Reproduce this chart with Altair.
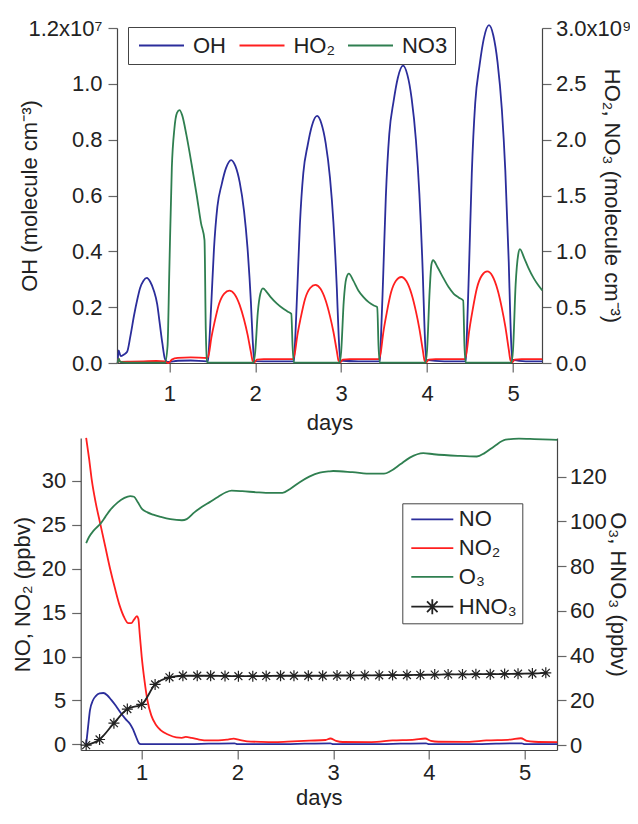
import altair as alt
import pandas as pd

FONT = "Liberation Sans"
BLUE = "#2b2d9b"
RED = "#ff1f1f"
GREEN = "#2f7f50"
BLACK = "#222222"

# ---------------- top panel (OH left axis in 1e7, HO2/NO3 right axis in 1e9) ----
oh_days = [0.40, 0.41, 0.435, 0.47, 0.51, 0.55, 0.59, 0.63, 0.66, 0.70, 0.74, 0.78, 0.82, 0.86, 0.89, 0.92, 0.95, 0.98,
           1.10, 1.25, 1.44,
           1.45, 1.46, 1.49, 1.52, 1.56, 1.61, 1.66, 1.72, 1.77, 1.82, 1.87, 1.91, 1.95, 1.97, 1.99, 2.2, 2.44,
           2.45, 2.46, 2.49, 2.52, 2.56, 2.61, 2.66, 2.72, 2.77, 2.82, 2.87, 2.91, 2.95, 2.97, 2.99, 3.2, 3.44,
           3.45, 3.46, 3.49, 3.52, 3.56, 3.61, 3.66, 3.72, 3.77, 3.82, 3.87, 3.91, 3.95, 3.97, 3.99, 4.2, 4.44,
           4.45, 4.46, 4.49, 4.52, 4.56, 4.61, 4.66, 4.72, 4.77, 4.82, 4.87, 4.91, 4.95, 4.97, 4.99, 5.15, 5.34]
oh_vals = [0.0, 0.045, 0.025, 0.03, 0.04, 0.10, 0.17, 0.23, 0.268, 0.295, 0.305, 0.29, 0.26, 0.21, 0.14, 0.07, 0.015, 0.004,
           0.008, 0.009, 0.006,
           0.006, 0.044, 0.218, 0.407, 0.560, 0.640, 0.698, 0.727, 0.705, 0.647, 0.545, 0.414, 0.218, 0.087, 0.007, 0.006, 0.006,
           0.006, 0.053, 0.266, 0.496, 0.681, 0.779, 0.850, 0.885, 0.858, 0.788, 0.664, 0.504, 0.266, 0.106, 0.009, 0.006, 0.006,
           0.006, 0.064, 0.320, 0.596, 0.820, 0.937, 1.022, 1.065, 1.033, 0.948, 0.799, 0.607, 0.320, 0.128, 0.011, 0.006, 0.006,
           0.006, 0.073, 0.363, 0.678, 0.932, 1.065, 1.162, 1.210, 1.174, 1.077, 0.908, 0.690, 0.363, 0.145, 0.012, 0.006, 0.006]

ho2_days = [0.40, 0.41, 0.43, 0.55, 0.70, 0.85, 0.95, 0.99, 1.03, 1.10, 1.25, 1.44,
            1.46, 1.49, 1.53, 1.58, 1.64, 1.70, 1.76, 1.82, 1.87, 1.91, 1.95, 1.97, 1.99, 2.02, 2.10, 2.30, 2.44,
            2.46, 2.49, 2.53, 2.58, 2.64, 2.70, 2.76, 2.82, 2.87, 2.91, 2.95, 2.97, 2.99, 3.02, 3.10, 3.30, 3.44,
            3.46, 3.49, 3.53, 3.58, 3.64, 3.70, 3.76, 3.82, 3.87, 3.91, 3.95, 3.97, 3.99, 4.02, 4.10, 4.30, 4.44,
            4.46, 4.49, 4.53, 4.58, 4.64, 4.70, 4.76, 4.82, 4.87, 4.91, 4.95, 4.97, 4.99, 5.02, 5.10, 5.34]
ho2_vals = [0.0, 0.04, 0.01, 0.012, 0.015, 0.018, 0.015, 0.0, 0.03, 0.045, 0.05, 0.045,
            0.078, 0.227, 0.376, 0.531, 0.622, 0.648, 0.616, 0.518, 0.389, 0.259, 0.097, 0.02, 0.005, 0.03, 0.035, 0.035, 0.035,
            0.084, 0.245, 0.406, 0.574, 0.672, 0.700, 0.665, 0.560, 0.420, 0.280, 0.105, 0.021, 0.005, 0.03, 0.035, 0.035, 0.035,
            0.092, 0.270, 0.447, 0.631, 0.739, 0.770, 0.732, 0.616, 0.462, 0.308, 0.116, 0.023, 0.005, 0.03, 0.035, 0.035, 0.035,
            0.098, 0.287, 0.476, 0.672, 0.787, 0.820, 0.779, 0.656, 0.492, 0.328, 0.123, 0.025, 0.005, 0.03, 0.035, 0.035]

no3_days = [0.40, 0.41, 0.43, 0.50, 0.95, 0.98, 1.00, 1.03, 1.06, 1.09, 1.12, 1.15, 1.20, 1.26, 1.32, 1.37, 1.41, 1.425, 1.44,
            1.46, 1.98, 2.00, 2.03, 2.06, 2.09, 2.13, 2.18, 2.25, 2.32, 2.38, 2.42, 2.435, 2.45,
            2.98, 3.00, 3.03, 3.06, 3.09, 3.14, 3.20, 3.26, 3.32, 3.38, 3.42, 3.435, 3.45,
            3.98, 4.00, 4.03, 4.05, 4.07, 4.12, 4.19, 4.25, 4.31, 4.37, 4.42, 4.435, 4.45,
            4.98, 5.00, 5.03, 5.06, 5.08, 5.13, 5.18, 5.24, 5.29, 5.34]
no3_vals = [0.0, 0.04, 0.01, 0.003, 0.003, 0.15, 0.80, 1.75, 2.10, 2.24, 2.265, 2.22, 2.04, 1.78, 1.50, 1.25, 1.10, 0.30, 0.01,
            0.003, 0.003, 0.10, 0.45, 0.62, 0.668, 0.64, 0.59, 0.534, 0.49, 0.46, 0.44, 0.15, 0.003,
            0.003, 0.10, 0.55, 0.76, 0.80, 0.74, 0.65, 0.59, 0.545, 0.515, 0.50, 0.15, 0.003,
            0.003, 0.12, 0.65, 0.88, 0.92, 0.86, 0.76, 0.68, 0.62, 0.585, 0.56, 0.15, 0.003,
            0.003, 0.12, 0.70, 0.97, 1.02, 0.94, 0.85, 0.76, 0.70, 0.65]

top_names = ["OH", "HO₂", "NO3"]
top_colors = [BLUE, RED, GREEN]

# ---------------- bottom panel (NO/NO2 left axis, O3/HNO3 right axis, ppbv) ----
no_days = [0.42, 0.44, 0.46, 0.49, 0.52, 0.56, 0.60, 0.64, 0.68, 0.73, 0.78, 0.83, 0.88, 0.91, 0.94, 0.97, 0.99,
           1.5, 1.7, 1.97, 2.0, 2.5, 2.7, 2.97, 3.0, 3.5, 3.7, 3.97, 4.0, 4.5, 4.7, 4.97, 5.0, 5.34]
no_vals = [0.0, 2.0, 3.9, 5.0, 5.5, 5.8, 5.85, 5.6, 5.1, 4.4, 3.6, 2.9, 2.3, 1.7, 0.9, 0.15, 0.02,
           0.03, 0.08, 0.12, 0.02, 0.03, 0.08, 0.12, 0.02, 0.03, 0.08, 0.12, 0.02, 0.03, 0.08, 0.12, 0.02, 0.03]

no2_days = [0.42, 0.45, 0.48, 0.52, 0.57, 0.62, 0.67, 0.72, 0.77, 0.82, 0.86, 0.89, 0.92, 0.95, 0.965, 0.98, 1.00, 1.03,
            1.06, 1.10, 1.15, 1.20, 1.28, 1.36, 1.42, 1.46, 1.52, 1.60, 1.70, 1.80, 1.90, 1.96, 2.02, 2.10, 2.25, 2.40,
            2.58, 2.75, 2.92, 2.97, 3.03, 3.10, 3.40, 3.62, 3.85, 3.96, 4.02, 4.10, 4.40, 4.60, 4.85, 4.96, 5.02, 5.10, 5.34]
no2_vals = [34.9, 32.6, 30.0, 27.5, 25.0, 22.5, 20.0, 17.8, 15.8, 14.4, 13.8, 13.8, 14.2, 14.6, 14.3, 12.5, 10.0, 7.2,
            5.0, 3.3, 2.2, 1.6, 1.1, 0.8, 0.75, 0.85, 0.75, 0.55, 0.45, 0.45, 0.55, 0.65, 0.5, 0.35, 0.28, 0.26,
            0.34, 0.42, 0.5, 0.67, 0.4, 0.27, 0.26, 0.45, 0.55, 0.67, 0.4, 0.3, 0.28, 0.45, 0.55, 0.7, 0.4, 0.3, 0.25]

o3_days = [0.42, 0.45, 0.50, 0.57, 0.62, 0.67, 0.75, 0.82, 0.88, 0.92, 0.96, 1.00, 1.06, 1.12, 1.20, 1.30, 1.42, 1.47,
           1.55, 1.63, 1.71, 1.80, 1.88, 1.94, 2.05, 2.20, 2.35, 2.47, 2.55, 2.65, 2.75, 2.86, 2.95, 3.00, 3.20, 3.40,
           3.53, 3.60, 3.70, 3.80, 3.94, 4.05, 4.30, 4.50, 4.58, 4.68, 4.80, 4.94, 5.10, 5.34]
o3_vals = [90.3, 93.0, 96.0, 99.0, 102.0, 105.0, 108.5, 110.5, 111.3, 111.0, 108.5, 105.7, 104.0, 103.0, 102.0, 101.0, 100.5, 101.0,
           104.0, 106.5, 108.6, 111.0, 113.0, 113.7, 113.5, 113.0, 112.7, 112.7, 114.5, 117.5, 120.0, 121.8, 122.3, 122.5, 122.0, 121.3,
           121.3, 122.5, 125.5, 128.5, 130.5, 130.0, 129.3, 129.0, 130.5, 133.5, 136.5, 137.0, 136.8, 136.4]

hno3_days = [0.42, 0.56, 0.71, 0.85, 1.00, 1.14, 1.29, 1.43, 1.58, 1.72, 1.87, 2.01, 2.16, 2.30, 2.45, 2.59, 2.74,
             2.89, 3.04, 3.18, 3.33, 3.48, 3.62, 3.77, 3.91, 4.06, 4.20, 4.35, 4.49, 4.64, 4.79, 4.93, 5.08, 5.22]
hno3_vals = [0.0, 2.5, 9.8, 16.1, 18.2, 27.1, 30.3, 31.0, 31.0, 31.0, 30.9, 30.8, 30.8, 30.9, 31.0, 31.0, 31.0,
             31.0, 31.1, 31.1, 31.2, 31.2, 31.3, 31.3, 31.4, 31.5, 31.6, 31.6, 31.7, 31.7, 31.8, 31.9, 32.0, 32.3]

bot_names = ["NO", "NO₂", "O₃", "HNO₃"]
bot_colors = [BLUE, RED, GREEN, BLACK]


def frame(days, vals, name):
    return pd.DataFrame({"day": days, "val": vals, "series": name})


top_df = pd.concat([frame(oh_days, oh_vals, "OH"),
                    frame(ho2_days, ho2_vals, "HO₂"),
                    frame(no3_days, no3_vals, "NO3")], ignore_index=True)
bot_df = pd.concat([frame(no_days, no_vals, "NO"),
                    frame(no2_days, no2_vals, "NO₂"),
                    frame(o3_days, o3_vals, "O₃"),
                    frame(hno3_days, hno3_vals, "HNO₃")], ignore_index=True)

LINE_SYM = "M-1,0H5"
HNO3_SYM = "M-1,0H5M2,-1.07V1.07M1.25,-0.76L2.75,0.76M1.25,0.76L2.75,-0.76"
STAR = "M0,-1V1M-1,0H1M-0.72,-0.72L0.72,0.72M-0.72,0.72L0.72,-0.72"

# one view spanning both panels; each panel uses its own pixel ranges
VIEW_W = 476.3
VIEW_H = 722
TOP_X_RANGE = [36.3, 461.3]
TOP_Y_RANGE = [335, 0]
BOT_X_RANGE = [0, VIEW_W]
BOT_Y_RANGE = [VIEW_H, 410]

# ---------------- top panel ----------------
x_top = alt.X("day:Q", scale=alt.Scale(domain=[0.392, 5.337], range=TOP_X_RANGE, nice=False, zero=False),
              axis=alt.Axis(orient="bottom", offset=-(VIEW_H - 335), values=[1, 2, 3, 4, 5], format="d",
                            title="days", labelPadding=11, titleY=66, titleBaseline="alphabetic"))
color_top = alt.Color("series:N", title=None,
                      scale=alt.Scale(domain=top_names, range=top_colors),
                      legend=alt.Legend(orient="none", legendX=47.3, legendY=-1, direction="horizontal",
                                        strokeColor="#444", padding=7.5, symbolType=LINE_SYM,
                                        symbolSize=225, symbolStrokeWidth=1.8, labelOffset=35.4,
                                        columnPadding=8.5, labelFont=FONT, labelFontSize=22,
                                        labelColor="#222"))

top_base = alt.Chart(top_df).mark_line(strokeWidth=1.8, interpolate="monotone")

oh_layer = top_base.transform_filter("datum.series == 'OH'").encode(
    x=x_top,
    y=alt.Y("val:Q", scale=alt.Scale(domain=[0, 1.2], range=TOP_Y_RANGE, nice=False, zero=False),
            axis=alt.Axis(orient="left", offset=-TOP_X_RANGE[0], values=[0, 0.2, 0.4, 0.6, 0.8, 1.0, 1.2],
                          labelExpr="datum.value > 1.1 ? '1.2x10⁷' : format(datum.value, '.1f')",
                          title="OH (molecule cm⁻³)", titleX=-87.4, titleAngle=-90,
                          titleBaseline="middle", labelPadding=6)),
    color=color_top)

rt_layer = top_base.transform_filter("datum.series != 'OH'").encode(
    x=x_top,
    y=alt.Y("val:Q", scale=alt.Scale(domain=[0, 3.0], range=TOP_Y_RANGE, nice=False, zero=False),
            axis=alt.Axis(orient="right", offset=-(VIEW_W - TOP_X_RANGE[1]),
                          values=[0, 0.5, 1.0, 1.5, 2.0, 2.5, 3.0],
                          labelExpr="datum.value > 2.9 ? '3.0x10⁹' : format(datum.value, '.1f')",
                          title="HO₂, NO₃ (molecule cm⁻³)", titleX=69.7, titleAngle=90,
                          titleBaseline="middle", labelPadding=4.5)),
    color=color_top)

top_layer = alt.layer(oh_layer, rt_layer).resolve_scale(y="independent")

# ---------------- bottom panel ----------------
x_bot = alt.X("day:Q", scale=alt.Scale(domain=[0.363, 5.337], range=BOT_X_RANGE, nice=False, zero=False),
              axis=alt.Axis(orient="bottom", values=[1, 2, 3, 4, 5], format="d", title="days",
                            labelPadding=3, titleY=54, titleBaseline="alphabetic"))
bot_legend = alt.Legend(orient="none", legendX=321.6, legendY=475.3, direction="vertical",
                        strokeColor="#444", padding=5,
                        symbolSize=196, symbolStrokeWidth=1.8, labelOffset=29.5,
                        rowPadding=6.8, labelFont=FONT, labelFontSize=22,
                        labelColor="#222", symbolFillColor="transparent")
color_bot = alt.Color("series:N", title=None,
                      scale=alt.Scale(domain=bot_names, range=bot_colors), legend=bot_legend)
shape_bot = alt.Shape("series:N", title=None,
                      scale=alt.Scale(domain=bot_names, range=[LINE_SYM, LINE_SYM, LINE_SYM, HNO3_SYM]),
                      legend=bot_legend)

bot_base = alt.Chart(bot_df).mark_line(strokeWidth=1.8, interpolate="monotone")

y_left_bot = alt.Y("val:Q", scale=alt.Scale(domain=[-0.64, 34.89], range=BOT_Y_RANGE, nice=False, zero=False),
                   axis=alt.Axis(orient="left", values=[0, 5, 10, 15, 20, 25, 30],
                                 title="NO, NO₂ (ppbv)", titleX=-58.1, titleAngle=-90,
                                 titleBaseline="middle", labelPadding=6))
y_right_bot = alt.Y("val:Q", scale=alt.Scale(domain=[-2.19, 137.26], range=BOT_Y_RANGE, nice=False, zero=False),
                    axis=alt.Axis(orient="right", values=[0, 20, 40, 60, 80, 100, 120],
                                  title="O₃, HNO₃ (ppbv)", titleX=60.5, titleAngle=90,
                                  titleBaseline="middle", labelPadding=3.5))

left_bot = bot_base.transform_filter("datum.series == 'NO' || datum.series == 'NO₂'").encode(
    x=x_bot, y=y_left_bot, color=color_bot)
right_bot = bot_base.transform_filter("datum.series == 'O₃' || datum.series == 'HNO₃'").encode(
    x=x_bot, y=y_right_bot, color=color_bot)
hno3_pts = alt.Chart(bot_df).transform_filter("datum.series == 'HNO₃'").mark_point(
    shape=STAR, size=121, filled=False, stroke=BLACK, strokeWidth=1.2, opacity=1
).encode(x=x_bot, y=y_right_bot)
legend_pts = alt.Chart(bot_df).transform_filter("false").mark_point(
    filled=False, strokeWidth=1.8, opacity=1
).encode(x=x_bot, y=y_right_bot, color=color_bot, shape=shape_bot)

bot_layer = alt.layer(left_bot, alt.layer(right_bot, hno3_pts, legend_pts)).resolve_scale(y="independent")

chart = alt.layer(top_layer, bot_layer).resolve_scale(
    x="independent", y="independent", color="independent", shape="independent"
).properties(
    width=VIEW_W, height=VIEW_H,
    autosize=alt.AutoSizeParams(type="none"),
    padding={"left": 72.7, "top": 20, "right": 73, "bottom": 58},
    background="white"
).configure_axis(
    labelFont=FONT, titleFont=FONT, labelFontSize=22, titleFontSize=22, titleFontWeight="normal",
    labelColor="#222", titleColor="#222", domainColor="#444", tickColor="#666", tickSize=9,
    grid=False, domainWidth=1.2, tickWidth=1.2
).configure_view(stroke=None)

chart.save("out.html", embed_options={"renderer": "svg", "actions": False})
